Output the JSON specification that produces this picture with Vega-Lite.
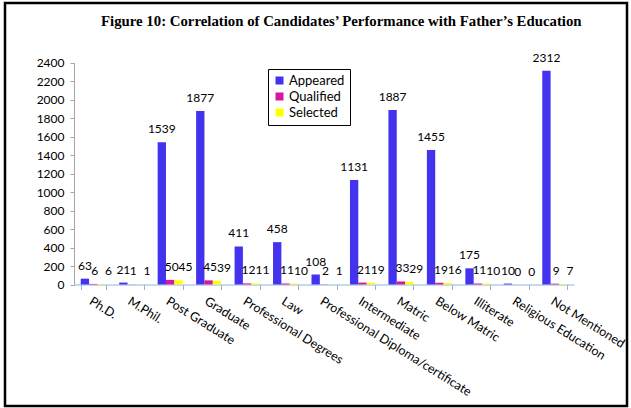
{
  "$schema": "https://vega.github.io/schema/vega-lite/v6.json",
  "width": 622,
  "height": 403,
  "autosize": {"type": "none"},
  "padding": {"left": 5, "top": 3, "right": 4, "bottom": 2},
  "background": "white",
  "title": {
    "text": "Figure 10: Correlation of Candidates’ Performance with Father’s Education",
    "font": "Liberation Serif",
    "fontSize": 14.8,
    "fontWeight": "bold",
    "color": "black",
    "anchor": "start",
    "frame": "group",
    "dx": 96,
    "offset": -38,
    "baseline": "alphabetic"
  },
  "config": {
    "view": {"stroke": "black", "strokeWidth": 2.5},
    "axis": {"grid": false, "title": null}
  },
  "data": {
    "values": [
      {"cat": "Ph.D.", "series": "Appeared", "value": 63},
      {"cat": "Ph.D.", "series": "Qualified", "value": 6},
      {"cat": "Ph.D.", "series": "Selected", "value": 6},
      {"cat": "M.Phil.", "series": "Appeared", "value": 21},
      {"cat": "M.Phil.", "series": "Qualified", "value": 1},
      {"cat": "M.Phil.", "series": "Selected", "value": 1},
      {"cat": "Post Graduate", "series": "Appeared", "value": 1539},
      {"cat": "Post Graduate", "series": "Qualified", "value": 50},
      {"cat": "Post Graduate", "series": "Selected", "value": 45},
      {"cat": "Graduate", "series": "Appeared", "value": 1877},
      {"cat": "Graduate", "series": "Qualified", "value": 45},
      {"cat": "Graduate", "series": "Selected", "value": 39},
      {"cat": "Professional Degrees", "series": "Appeared", "value": 411},
      {"cat": "Professional Degrees", "series": "Qualified", "value": 12},
      {"cat": "Professional Degrees", "series": "Selected", "value": 11},
      {"cat": "Law", "series": "Appeared", "value": 458},
      {"cat": "Law", "series": "Qualified", "value": 11},
      {"cat": "Law", "series": "Selected", "value": 10},
      {"cat": "Professional Diploma/certificate", "series": "Appeared", "value": 108},
      {"cat": "Professional Diploma/certificate", "series": "Qualified", "value": 2},
      {"cat": "Professional Diploma/certificate", "series": "Selected", "value": 1},
      {"cat": "Intermediate", "series": "Appeared", "value": 1131},
      {"cat": "Intermediate", "series": "Qualified", "value": 21},
      {"cat": "Intermediate", "series": "Selected", "value": 19},
      {"cat": "Matric", "series": "Appeared", "value": 1887},
      {"cat": "Matric", "series": "Qualified", "value": 33},
      {"cat": "Matric", "series": "Selected", "value": 29},
      {"cat": "Below Matric", "series": "Appeared", "value": 1455},
      {"cat": "Below Matric", "series": "Qualified", "value": 19},
      {"cat": "Below Matric", "series": "Selected", "value": 16},
      {"cat": "Illiterate", "series": "Appeared", "value": 175},
      {"cat": "Illiterate", "series": "Qualified", "value": 11},
      {"cat": "Illiterate", "series": "Selected", "value": 10},
      {"cat": "Religious Education", "series": "Appeared", "value": 10},
      {"cat": "Religious Education", "series": "Qualified", "value": 0},
      {"cat": "Religious Education", "series": "Selected", "value": 0},
      {"cat": "Not Mentioned", "series": "Appeared", "value": 2312},
      {"cat": "Not Mentioned", "series": "Qualified", "value": 9},
      {"cat": "Not Mentioned", "series": "Selected", "value": 7}
    ]
  },
  "encoding": {
    "x": {
      "field": "cat",
      "type": "nominal",
      "sort": null,
      "scale": {"range": [69, 569], "paddingInner": 0.35, "paddingOuter": 0.175},
      "axis": {
        "labelAngle": 32,
        "labelAlign": "left",
        "labelBaseline": "top",
        "labelFont": "Lato",
        "labelFontSize": 12.5,
        "labelColor": "black",
        "labelPadding": 5,
        "labelLimit": 400,
        "labelOverlap": false,
        "tickBand": "extent",
        "tickSize": 5,
        "tickColor": "#8db3e2",
        "domainColor": "#8db3e2",
        "offset": -121.5
      }
    },
    "xOffset": {"field": "series", "type": "nominal", "sort": ["Appeared", "Qualified", "Selected"]},
    "y": {
      "field": "value",
      "type": "quantitative",
      "scale": {"domain": [0, 2400], "range": [281.5, 59.5], "nice": false, "zero": false},
      "axis": {
        "values": [0, 200, 400, 600, 800, 1000, 1200, 1400, 1600, 1800, 2000, 2200, 2400],
        "format": "d",
        "offset": -69,
        "domainColor": "#a6a6a6",
        "tickColor": "#a6a6a6",
        "tickSize": 4,
        "labelPadding": 6,
        "labelFont": "Lato",
        "labelFontSize": 12,
        "labelColor": "black"
      }
    }
  },
  "layer": [
    {
      "mark": {"type": "bar"},
      "encoding": {
        "y2": {"datum": 0},
        "color": {
          "field": "series",
          "type": "nominal",
          "scale": {"domain": ["Appeared", "Qualified", "Selected"], "range": ["#4433ee", "#d4199f", "#ffff00"]},
          "legend": {
            "title": null,
            "orient": "none",
            "legendX": 263,
            "legendY": 66,
            "strokeColor": "black",
            "padding": 5,
            "symbolType": "square",
            "symbolSize": 64,
            "symbolStrokeWidth": 0,
            "labelFont": "Lato",
            "labelFontSize": 13,
            "labelColor": "black",
            "rowPadding": 2,
            "labelOffset": 3
          }
        }
      }
    },
    {
      "transform": [{"filter": "datum.series === 'Appeared'"}],
      "mark": {"type": "text", "baseline": "alphabetic", "align": "center", "dy": -9, "font": "Lato", "fontSize": 12, "color": "black"},
      "encoding": {"text": {"field": "value", "type": "quantitative"}}
    },
    {
      "transform": [{"filter": "datum.series === 'Qualified'"}],
      "mark": {"type": "text", "baseline": "alphabetic", "align": "center", "dy": -9, "dx": 1.5, "font": "Lato", "fontSize": 12, "color": "black"},
      "encoding": {"text": {"field": "value", "type": "quantitative"}}
    },
    {
      "transform": [{"filter": "datum.series === 'Selected'"}],
      "mark": {"type": "text", "baseline": "alphabetic", "align": "center", "dy": -9, "dx": 7, "font": "Lato", "fontSize": 12, "color": "black"},
      "encoding": {"text": {"field": "value", "type": "quantitative"}}
    }
  ]
}
